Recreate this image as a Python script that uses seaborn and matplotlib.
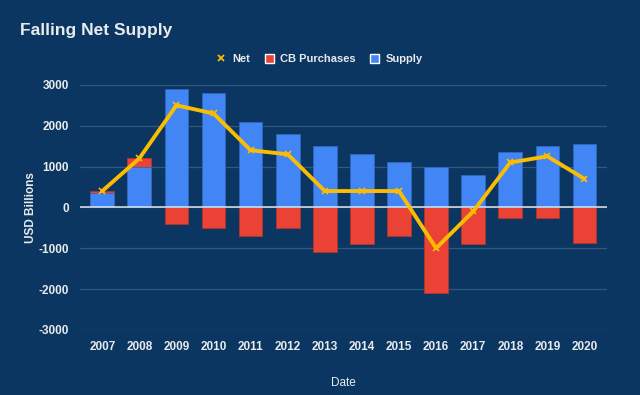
import numpy as np
import pandas as pd
import seaborn as sns
import matplotlib.pyplot as plt
from matplotlib.lines import Line2D
from matplotlib.patches import Patch

years = ['2007', '2008', '2009', '2010', '2011', '2012', '2013',
         '2014', '2015', '2016', '2017', '2018', '2019', '2020']
supply = [350, 1000, 2900, 2800, 2100, 1800, 1500, 1300, 1100, 1000, 800, 1350, 1500, 1560]
cb_purchases = [50, 200, -400, -500, -700, -500, -1100, -900, -700, -2100, -900, -250, -250, -870]
net = [400, 1200, 2500, 2300, 1400, 1300, 400, 400, 400, -1000, -100, 1100, 1250, 700]

bg = '#0a3661'
blue = '#4285f4'
red = '#ea4335'
yellow = '#fbbc04'
txt = '#e8eaed'

df = pd.DataFrame({'Date': years, 'Supply': supply, 'CB': cb_purchases, 'Net': net})
# positive CB purchases sit on top of supply, negative ones hang below zero
df['CB_top'] = np.where(df['CB'] > 0, df['Supply'] + df['CB'], df['CB'])

sns.set_style('white')
plt.rcParams['font.family'] = ['Liberation Sans', 'DejaVu Sans']
plt.rcParams['axes.unicode_minus'] = False

fig = plt.figure(figsize=(6.4, 3.95), dpi=100, facecolor=bg)
ax = fig.add_axes([0.125, 0.165, 0.823, 0.62])
ax.set_facecolor(bg)

sns.barplot(data=df, x='Date', y='CB_top', color=red, width=0.64,
            edgecolor='#b3362b', linewidth=0.6, saturation=1, ax=ax)
sns.barplot(data=df, x='Date', y='Supply', color=blue, width=0.64,
            edgecolor='#2f66c0', linewidth=0.6, saturation=1, ax=ax)
ax.plot(np.arange(len(years)), df['Net'], color=yellow, lw=2.8,
        marker='x', markersize=5, markeredgewidth=1.2, zorder=5)

ax.set_ylim(-3000, 3000)
ax.set_yticks(range(-3000, 3001, 1000))
ax.set_xlim(-0.6, len(years) - 0.4)
ax.grid(axis='y', color='#33587f', lw=0.9)
ax.set_axisbelow(True)
ax.axhline(0, color='#dfe6ee', lw=1.1, zorder=4)
for s in ax.spines.values():
    s.set_visible(False)
ax.tick_params(length=0, colors=txt, labelsize=8.5, pad=8)
for lab in ax.get_xticklabels() + ax.get_yticklabels():
    lab.set_fontweight('bold')

ax.set_xlabel('Date', color=txt, fontsize=8.5, labelpad=17)
ax.set_ylabel('USD Billions', color=txt, fontsize=8.5, fontweight='bold', labelpad=1)

fig.text(0.031, 0.922, 'Falling Net Supply', color=txt, fontsize=12.5,
         fontweight='bold', va='center')

handles = [Line2D([], [], color=yellow, marker='x', ls='none', markersize=5, markeredgewidth=1.3),
           Patch(facecolor=red), Patch(facecolor=blue)]
fig.legend(handles, ['Net', 'CB Purchases', 'Supply'], loc='center',
           bbox_to_anchor=(0.5, 0.85), ncol=3, frameon=False,
           handlelength=0.8, handleheight=0.9, handletextpad=0.6, columnspacing=1.3,
           prop={'weight': 'bold', 'size': 8}, labelcolor=txt)

fig.savefig('out.png', dpi=100, facecolor=bg)
